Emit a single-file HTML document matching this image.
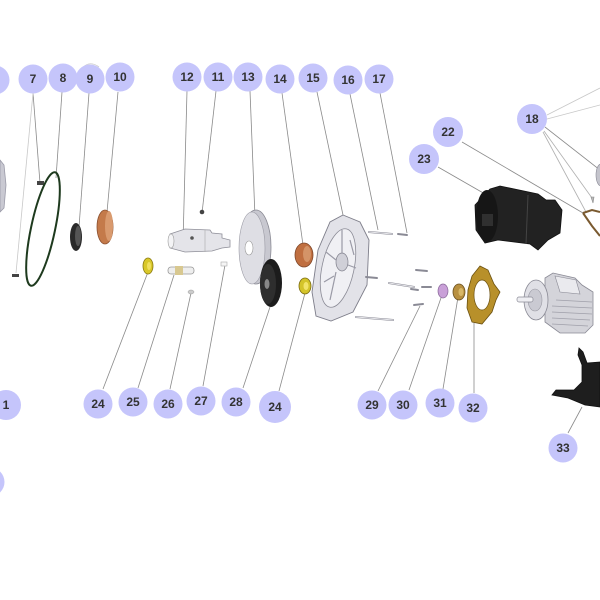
<!DOCTYPE html>
<html><head><meta charset="utf-8"><style>
html,body{margin:0;padding:0;background:#fff;}
svg{display:block;}
text{font-family:"Liberation Sans",sans-serif;font-weight:bold;font-size:12px;fill:#333;text-anchor:middle;}
</style></head><body>
<svg width="600" height="600" viewBox="0 0 600 600" xmlns="http://www.w3.org/2000/svg">
<rect width="600" height="600" fill="#fff"/>
<!-- leader lines -->
<g stroke="#8a8a8a" stroke-width="0.8" fill="none">
<line x1="33" y1="93" x2="40" y2="183"/>
<line x1="33" y1="93" x2="16" y2="273" stroke="#c8c8c8"/>
<line x1="62" y1="92" x2="56" y2="178"/>
<line x1="89" y1="93" x2="79" y2="227"/>
<line x1="118" y1="92" x2="106" y2="223"/>
<line x1="187" y1="91" x2="183" y2="242"/>
<line x1="216" y1="91" x2="202" y2="213"/>
<line x1="250" y1="91" x2="255" y2="217"/>
<line x1="282" y1="93" x2="303" y2="245"/>
<line x1="317" y1="92" x2="343" y2="215"/>
<line x1="350" y1="94" x2="378" y2="230"/>
<line x1="380" y1="93" x2="407" y2="233"/>
<line x1="547" y1="115" x2="600" y2="88" stroke="#c8c8c8"/>
<line x1="547" y1="119" x2="600" y2="105" stroke="#c8c8c8"/>
<line x1="545" y1="127" x2="600" y2="170"/>
<line x1="544" y1="131" x2="592" y2="198" stroke="#b0b0b0"/>
<line x1="543" y1="132" x2="586" y2="212" stroke="#b0b0b0"/>
<line x1="462" y1="142" x2="583" y2="213"/>
<line x1="438" y1="167" x2="492" y2="198"/>
<line x1="103" y1="389" x2="148" y2="272"/>
<line x1="138" y1="388" x2="174" y2="275"/>
<line x1="170" y1="389" x2="191" y2="293"/>
<line x1="203" y1="386" x2="225" y2="265"/>
<line x1="243" y1="388" x2="270" y2="307"/>
<line x1="279" y1="391" x2="305" y2="293"/>
<line x1="378" y1="391" x2="420" y2="306"/>
<line x1="409" y1="390" x2="442" y2="295"/>
<line x1="443" y1="389" x2="458" y2="297"/>
<line x1="474" y1="393" x2="474" y2="323"/>
<line x1="568" y1="433" x2="582" y2="407"/>
</g>

<!-- left partial part -->
<path d="M0 160 L4 165 L6 185 L4 208 L0 212 Z" fill="#c9c9d2" stroke="#9a9aa8" stroke-width="0.8"/>
<!-- 7 small parts -->
<rect x="37" y="181" width="7" height="4" fill="#444"/>
<rect x="12" y="274" width="7" height="3" fill="#444"/>
<!-- 8 green o-ring -->
<ellipse cx="43" cy="229" rx="12" ry="58" transform="rotate(12 43 229)" fill="none" stroke="#1e3a1e" stroke-width="2"/>
<!-- 9 black ring -->
<ellipse cx="76" cy="237" rx="6" ry="14" fill="#2a2a2a"/>
<ellipse cx="78" cy="236" rx="3" ry="10" fill="#555"/>
<!-- 10 copper bushing -->
<ellipse cx="105" cy="227" rx="8" ry="17" fill="#c47a4a" stroke="#8a5030" stroke-width="0.8"/>
<ellipse cx="109" cy="226" rx="4" ry="15" fill="#d99a6e"/>
<!-- 24 yellow ring -->
<ellipse cx="148" cy="266" rx="5" ry="8" fill="#d9c82a" stroke="#8a7a10" stroke-width="0.8"/>
<ellipse cx="149" cy="266" rx="2" ry="4" fill="#f0e060"/>
<!-- 25 pin -->
<rect x="168" y="267" width="26" height="7" rx="3" fill="#eeeeee" stroke="#999" stroke-width="0.8"/>
<rect x="175" y="266" width="8" height="9" fill="#d8c890"/>
<!-- 26 tiny -->
<ellipse cx="191" cy="292" rx="3" ry="2" fill="#ccc" stroke="#999" stroke-width="0.5"/>
<!-- 27 tiny -->
<rect x="221" y="262" width="6" height="4" fill="#f5f5f5" stroke="#aaa" stroke-width="0.6"/>
<!-- 11 dot -->
<circle cx="202" cy="212" r="2.3" fill="#444"/>
<!-- 12 shaft -->
<path d="M170 234 L185 229 L210 230 L212 233 L222 234 L222 238 L230 240 L230 247 L222 248 L212 251 L185 252 L170 248 Z" fill="#e4e4e9" stroke="#8f8f99" stroke-width="0.8"/>
<ellipse cx="171" cy="241" rx="3" ry="7" fill="#f4f4f6" stroke="#999" stroke-width="0.6"/>
<circle cx="192" cy="238" r="1.8" fill="#555"/>
<line x1="205" y1="230" x2="205" y2="252" stroke="#aaa" stroke-width="0.6"/>
<!-- 13 disc -->
<ellipse cx="256" cy="247" rx="15" ry="37" fill="#c8c8d0" stroke="#8a8a94" stroke-width="0.8"/>
<ellipse cx="252" cy="248" rx="13" ry="36" fill="#dedee4" stroke="#9a9aa4" stroke-width="0.6"/>
<ellipse cx="249" cy="248" rx="4" ry="7" fill="#fff" stroke="#999" stroke-width="0.6"/>
<!-- 28 black disc -->
<ellipse cx="271" cy="283" rx="11" ry="24" fill="#1c1c1c"/>
<ellipse cx="268" cy="284" rx="8" ry="20" fill="#2e2e2e"/>
<ellipse cx="267" cy="284" rx="2.5" ry="5" fill="#888"/>
<!-- 14 copper -->
<ellipse cx="304" cy="255" rx="9" ry="12" fill="#c06f40" stroke="#80482a" stroke-width="0.8"/>
<ellipse cx="307" cy="254" rx="4" ry="8" fill="#d49468"/>
<!-- 24b yellow -->
<ellipse cx="305" cy="286" rx="6" ry="8" fill="#d4c42a" stroke="#7a6a10" stroke-width="0.8"/>
<ellipse cx="306" cy="286" rx="2.5" ry="4" fill="#f2e46a"/>
<!-- 15 housing -->
<path d="M343 215 L360 222 L369 240 L367 285 L353 312 L331 321 L316 316 L312 292 L318 250 L330 222 Z" fill="#e2e2e8" stroke="#7e7e8a" stroke-width="0.9"/>
<ellipse cx="338" cy="268" rx="16" ry="40" transform="rotate(12 338 268)" fill="#f0f0f4" stroke="#8a8a95" stroke-width="0.8"/>
<ellipse cx="342" cy="262" rx="6" ry="9" fill="#d0d0d8" stroke="#7e7e8a" stroke-width="0.7"/>
<g stroke="#9a9aa6" stroke-width="1.2">
<line x1="342" y1="230" x2="342" y2="253"/>
<line x1="336" y1="272" x2="330" y2="300"/>
<line x1="326" y1="252" x2="336" y2="260"/>
<line x1="348" y1="265" x2="356" y2="268"/>
<line x1="350" y1="240" x2="354" y2="255"/>
<line x1="324" y1="282" x2="334" y2="276"/>
</g>
<!-- bolts -->
<g stroke="#8a8a95" stroke-width="2" stroke-linecap="round">
<line x1="369" y1="232" x2="392" y2="234"/>
<line x1="398" y1="234" x2="407" y2="235"/>
<line x1="366" y1="277" x2="377" y2="278"/>
<line x1="389" y1="283" x2="414" y2="287"/>
<line x1="411" y1="289" x2="418" y2="290"/>
<line x1="416" y1="270" x2="427" y2="271"/>
<line x1="422" y1="287" x2="431" y2="287"/>
<line x1="414" y1="305" x2="423" y2="304"/>
<line x1="356" y1="317" x2="393" y2="320"/>
</g>
<g stroke="#e8e8ec" stroke-width="1" stroke-linecap="round">
<line x1="369" y1="232" x2="392" y2="234"/>
<line x1="389" y1="283" x2="414" y2="287"/>
<line x1="356" y1="317" x2="393" y2="320"/>
</g>
<!-- 30 lilac washer -->
<ellipse cx="443" cy="291" rx="5" ry="7" fill="#c9a0d8" stroke="#8a6a9a" stroke-width="0.7"/>
<!-- 31 brass -->
<ellipse cx="459" cy="292" rx="6" ry="8" fill="#b89040" stroke="#6a5020" stroke-width="0.8"/>
<ellipse cx="461" cy="292" rx="2.5" ry="4" fill="#d8b868"/>
<!-- 32 gold flange -->
<path d="M480 266 L488 270 L494 284 L500 292 L496 300 L492 312 L482 324 L472 322 L467 308 L468 290 L472 276 Z" fill="#b8902a" stroke="#6a5010" stroke-width="0.8"/>
<ellipse cx="482" cy="295" rx="8" ry="15" fill="#fff" stroke="#6a5010" stroke-width="0.7"/>
<!-- 23 black housing -->
<path d="M490 189 L500 186 L538 194 L546 200 L555 200 L562 210 L560 233 L548 240 L538 250 L530 244 L498 240 L485 243 L476 230 L475 205 Z" fill="#222" stroke="#111" stroke-width="0.8"/>
<ellipse cx="487" cy="216" rx="11" ry="26" fill="#161616"/>
<rect x="482" y="214" width="11" height="12" fill="#303030"/>
<line x1="528" y1="195" x2="526" y2="244" stroke="#444" stroke-width="1"/>
<!-- 22 gasket -->
<path d="M583 213 L592 210 L600 212 M583 213 L592 226 L600 236" fill="none" stroke="#7a5a30" stroke-width="2"/>
<!-- 18 partials -->
<ellipse cx="601" cy="175" rx="5" ry="11" fill="#c4c4cc" stroke="#8a8a95" stroke-width="0.6"/>
<path d="M591 197 L594 197 L593 203 Z" fill="#bbb" stroke="#888" stroke-width="0.6"/>
<!-- motor -->
<path d="M545 278 L553 273 L575 278 L582 285 L593 292 L593 325 L585 333 L560 333 L545 322 Z" fill="#d4d4da" stroke="#8a8a95" stroke-width="0.8"/>
<g stroke="#a0a0aa" stroke-width="0.7">
<line x1="552" y1="306" x2="592" y2="308"/>
<line x1="552" y1="312" x2="592" y2="314"/>
<line x1="552" y1="318" x2="590" y2="320"/>
<line x1="552" y1="324" x2="588" y2="326"/>
<line x1="556" y1="300" x2="592" y2="302"/>
</g>
<path d="M555 276 L576 280 L580 294 L560 292 Z" fill="#eaeaee" stroke="#8a8a95" stroke-width="0.6"/>
<ellipse cx="536" cy="300" rx="12" ry="20" fill="#e0e0e6" stroke="#8a8a95" stroke-width="0.8"/>
<ellipse cx="535" cy="300" rx="7" ry="11" fill="#cacad2" stroke="#9a9aa4" stroke-width="0.6"/>
<rect x="517" y="297" width="16" height="5" rx="2" fill="#eeeef2" stroke="#8a8a95" stroke-width="0.7"/>
<!-- 33 black part -->
<path d="M579 348 L583 352 L587 363 L600 362 L600 407 L585 405 L568 398 L552 395 L556 390 L574 390 L582 382 L582 365 L578 355 Z" fill="#1e1e1e" stroke="#111" stroke-width="0.8"/>
<!-- faint arc above 9 -->
<path d="M82 68 Q90 60 99 67" fill="none" stroke="#ccc" stroke-width="0.8"/>

<!-- bubbles -->
<g fill="#c5c5fb">
<circle cx="-5" cy="80" r="14.5"/>
<circle cx="33" cy="79" r="14.5"/>
<circle cx="63" cy="78" r="14.5"/>
<circle cx="90" cy="79" r="14.5"/>
<circle cx="120" cy="77" r="14.5"/>
<circle cx="187" cy="77" r="14.5"/>
<circle cx="218" cy="77" r="14.5"/>
<circle cx="248" cy="77" r="14.5"/>
<circle cx="280" cy="79" r="14.5"/>
<circle cx="313" cy="78" r="14.5"/>
<circle cx="348" cy="80" r="14.5"/>
<circle cx="379" cy="79" r="14.5"/>
<circle cx="532" cy="119" r="15"/>
<circle cx="448" cy="132" r="15"/>
<circle cx="424" cy="159" r="15"/>
<circle cx="98" cy="404" r="14.5"/>
<circle cx="133" cy="402" r="14.5"/>
<circle cx="168" cy="404" r="14.5"/>
<circle cx="201" cy="401" r="14.5"/>
<circle cx="236" cy="402" r="14.5"/>
<circle cx="275" cy="407" r="16"/>
<circle cx="372" cy="405" r="14.5"/>
<circle cx="403" cy="405" r="14.5"/>
<circle cx="440" cy="403" r="14.5"/>
<circle cx="473" cy="408" r="14.5"/>
<circle cx="563" cy="448" r="14.5"/>
<circle cx="6" cy="405" r="15"/>
<circle cx="-10" cy="482" r="14.5"/>
</g>
<g>
<text x="33" y="83">7</text>
<text x="63" y="82">8</text>
<text x="90" y="83">9</text>
<text x="120" y="81">10</text>
<text x="187" y="81">12</text>
<text x="218" y="81">11</text>
<text x="248" y="81">13</text>
<text x="280" y="83">14</text>
<text x="313" y="82">15</text>
<text x="348" y="84">16</text>
<text x="379" y="83">17</text>
<text x="532" y="123">18</text>
<text x="448" y="136">22</text>
<text x="424" y="163">23</text>
<text x="98" y="408">24</text>
<text x="133" y="406">25</text>
<text x="168" y="408">26</text>
<text x="201" y="405">27</text>
<text x="236" y="406">28</text>
<text x="275" y="411">24</text>
<text x="372" y="409">29</text>
<text x="403" y="409">30</text>
<text x="440" y="407">31</text>
<text x="473" y="412">32</text>
<text x="563" y="452">33</text>
<text x="6" y="409">1</text>
</g>
</svg>
</body></html>
